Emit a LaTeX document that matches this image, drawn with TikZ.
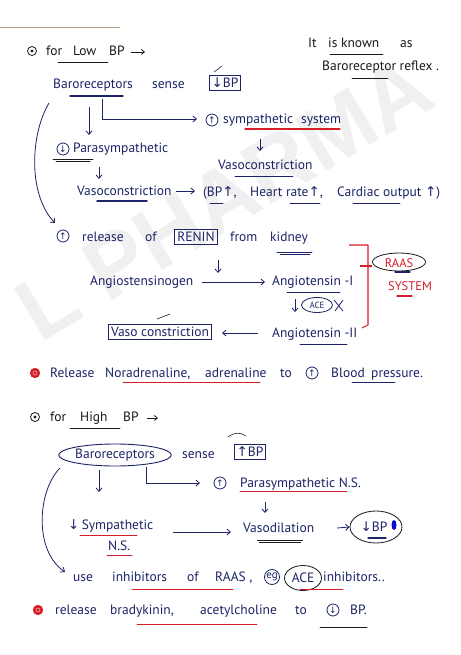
\documentclass[tikz,border=0pt]{standalone}
\usepackage{fontspec}
\setmainfont{PT Sans}
\newfontfamily\symf{DejaVu Sans}
\newfontfamily\wmfont{Liberation Sans}
\usetikzlibrary{arrows.meta,shapes.geometric}
\definecolor{ink}{RGB}{28,36,102}
\definecolor{redink}{RGB}{214,30,40}
\definecolor{pen}{RGB}{25,25,30}
\newcommand\arU{{\symf ↑}}
\newcommand\arD{{\symf ↓}}
\newcommand\hsz{\fontsize{13.5}{15}\selectfont}
\begin{document}
\begin{tikzpicture}[x=1pt,y=-1pt,
 txt/.style={inner sep=0pt, anchor=base west, text=ink, font=\hsz},
 blk/.style={txt, text=pen},
 rtxt/.style={txt, text=redink},
 ul/.style={draw=ink, line width=0.9pt, line cap=round},
 bul/.style={draw=pen, line width=0.8pt, line cap=round},
 rul/.style={draw=redink, line width=0.9pt, line cap=round},
 arr/.style={draw=ink, line width=0.8pt, -{Straight Barb[length=3.5pt,width=6pt]}},
 barr/.style={draw=pen, line width=0.8pt, -{Straight Barb[length=3pt,width=5pt]}},
 circ/.style={circle, draw=ink, line width=0.8pt, inner sep=0pt, minimum size=12pt, text=ink, font=\symf\fontsize{9}{9}\selectfont},
 boxn/.style={draw=ink, line width=0.9pt, inner sep=2.5pt, text=ink, font=\hsz},
 dotbul/.style={circle, draw=pen, line width=0.8pt, minimum size=9pt, inner sep=0pt},
 redbul/.style={circle, draw=redink, fill=redink, line width=0.7pt, minimum size=9.5pt, inner sep=0pt},
]
\useasboundingbox (0,0) rectangle (460,655);
\fill[white] (0,0) rectangle (460,655);
% watermark
\node[rotate=31, text=black!6, font=\wmfont\bfseries\fontsize{88}{88}\selectfont] (wm) at (224,198) {L PHARMA};
% top page line
\draw[draw=brown!70!black, line width=1pt, opacity=0.6] (0,28) -- (120,28);

% ---------- Section 1 : Low BP ----------
\node[dotbul] (b1) at (32,51) {};
\fill[pen] (b1.center) circle[radius=1.7];
\node[blk] (for1) at (46,56) {for};
\node[blk] (low) at (73,56) {Low};
\node[blk] (bp1) at (109,56) {BP};
\coordinate (h1a) at (131,52); \coordinate (h1b) at (145,52);
\draw[barr] (h1a) -- (h1b);
\draw[bul] (58,62) -- (108,62);

\node[blk] (itis) at (308,48) {It};
\node[blk] (known) at (328,48) {is known};
\node[blk] (as) at (400,48) {as};
\draw[bul] (330,54) -- (383,54);
\node[blk] (reflex) at (322,71) {Baroreceptor reflex .};
\draw[bul] (352,78) -- (388,78);

\node[txt] (baro1) at (53,89) {Baroreceptors};
\draw[ul, line width=1.4pt] (70,96) -- (123,96);
\node[txt] (sense1) at (152,89) {sense};
\node[boxn] (lowbp) at (225,83) {\arD BP};
\draw[ul, line width=0.6pt] (214,72) -- (222,66);

\coordinate (d1a) at (89,107); \coordinate (d1b) at (89,135);
\draw[arr] (d1a) -- (d1b);
\coordinate (l1a) at (102,99); \coordinate (l1b) at (197,119);
\draw[arr] (l1a) |- (l1b);

\node[circ] (c1) at (212,120) {↑};
\node[txt] (symp) at (223,124) {sympathetic\hspace{8pt}system};
\draw[rul, line width=1.3pt] (245,129) -- (340,129);
\coordinate (d2a) at (260,139); \coordinate (d2b) at (260,151);
\draw[arr] (d2a) -- (d2b);
\node[txt] (vaso1) at (218,170) {Vasoconstriction};
\draw[ul] (235,176) -- (293,176);

\node[circ] (c2) at (63,149) {↓};
\node[txt] (para) at (73,153) {Parasympathetic};
\draw[bul] (53,159) -- (93,159);
\draw[bul] (56,161.5) -- (90,161.5);
\coordinate (d3a) at (99,167); \coordinate (d3b) at (99,179);
\draw[arr] (d3a) -- (d3b);
\node[txt] (vaso2) at (77,195) {Vasoconstriction};
\draw[ul, line width=1.4pt] (97,201) -- (147,201);
\coordinate (a1a) at (176,191); \coordinate (a1b) at (195,191);
\draw[arr] (a1a) -- (a1b);
\node[txt] (eff1) at (203,196) {(BP\arU,};
\node[txt] (eff2) at (250,196) {Heart rate\arU,};
\node[txt] (eff3) at (337,196) {Cardiac output \arU)};
\draw[ul] (210,203) -- (223,203);
\draw[ul] (290,203) -- (320,203);
\draw[ul] (353,203) -- (400,203);

\coordinate (cv1a) at (49,103); \coordinate (cv1b) at (55,223);
\draw[arr] (cv1a) .. controls (30,135) and (28,195) .. (cv1b);

\node[circ] (c3) at (63,236) {↑};
\node[txt] (rel1) at (82,241) {release};
\node[txt] (of1) at (145,241) {of};
\node[boxn] (renin) at (196,237) {RENIN};
\node[txt] (from) at (230,241) {from};
\node[txt] (kid) at (270,241) {kidney};
\draw[ul] (277,252) -- (312,252);
\draw[ul, line width=0.5pt] (280,254) -- (310,254);
\coordinate (d4a) at (218,260); \coordinate (d4b) at (218,273);
\draw[arr] (d4a) -- (d4b);

\node[txt] (agen) at (90,285) {Angiostensinogen};
\node[txt] (ang1) at (272,285) {Angiotensin -I};
\coordinate (a2a) at (202,282); \coordinate (a2b) at (265,282);
\draw[arr] (a2a) -- (a2b);
\draw[ul, line width=0.6pt] (287,292) -- (340,292);
\coordinate (d5a) at (295,299); \coordinate (d5b) at (295,312);
\draw[arr] (d5a) -- (d5b);
\node[ellipse, draw=ink, line width=0.8pt, inner sep=0.5pt, minimum width=31pt, minimum height=15pt, text=ink, font=\fontsize{9}{9}\selectfont] (ace1) at (317,305) {ACE};
\draw[ink, line width=0.8pt] (334,300) -- (343,311) (343,300) -- (335,311);

\node[boxn] (vbox) at (160,332) {Vaso constriction};
\draw[pen, line width=0.6pt] (157,319) -- (170,314);
\node[txt] (ang2) at (272,337) {Angiotensin -II};
\coordinate (a3s) at (258,333); \coordinate (a3e) at (222,333);
\draw[arr] (a3s) -- (a3e);
\draw[ul, line width=0.6pt] (300,344) -- (347,344);

% RAAS bracket
\draw[redink, line width=1.1pt, line join=round] (349,245) -- (368,245) -- (368,325) -- (362,328);
\draw[redink, line width=1.1pt] (360,266) -- (372,266);
\node[ellipse, draw=pen, line width=0.8pt, minimum width=53pt, minimum height=18pt, inner sep=0pt] (raas) at (399,262) {};
\node[rtxt, anchor=center, font=\fontsize{12.5}{13}\selectfont] (raast) at (399,263) {RAAS};
\draw[ul, line width=1.2pt] (395,272) -- (410,272);
\node[rtxt, anchor=center, font=\fontsize{12.5}{13}\selectfont] (sys) at (410,286) {SYSTEM};
\draw[rul, line width=1.3pt] (397,296) -- (412,296);

% release line
\node[redbul] (rb1) at (35,373) {};
\draw[white!60!redink, line width=0.6pt] (rb1.center) circle[radius=2];
\node[txt] (rel2) at (50,377) {Release};
\node[txt] (nor) at (105,377) {Noradrenaline,};
\node[txt] (adr) at (205,377) {adrenaline};
\node[txt] (to1) at (280,377) {to};
\node[circ] (c4) at (312,373) {↑};
\node[txt] (blood) at (331,377) {Blood};
\node[txt] (press) at (371,377) {pressure.};
\draw[rul] (123,382) -- (260,382);
\draw[ul, line width=0.6pt] (352,382) -- (395,382);

% ---------- Section 2 : High BP ----------
\node[dotbul] (b2) at (35,417) {};
\fill[pen] (b2.center) circle[radius=1.7];
\node[blk] (for2) at (50,421) {for};
\node[blk] (high) at (80,421) {High};
\node[blk] (bp2) at (123,421) {BP};
\coordinate (h2a) at (147,418); \coordinate (h2b) at (158,418);
\draw[barr] (h2a) -- (h2b);
\draw[bul] (70,428) -- (120,428);

\node[ellipse, draw=ink, line width=0.9pt, minimum width=100pt, minimum height=22pt, inner sep=0pt, text=ink, font=\hsz] (baro2) at (115,455) {Baroreceptors};
\node[txt] (sense2) at (182,458) {sense};
\node[boxn] (highbp) at (250,452) {\arU BP};
\draw[pen, line width=0.6pt] (228,437) .. controls (235,432) and (240,432) .. (246,436);

\coordinate (d6a) at (99,470); \coordinate (d6b) at (99,492);
\draw[arr] (d6a) -- (d6b);
\coordinate (l2a) at (146,467); \coordinate (l2b) at (200,483);
\draw[arr] (l2a) |- (l2b);

\node[circ] (c5) at (220,483) {↑};
\node[txt] (para2) at (240,487) {Parasympathetic N.S.};
\draw[rul, line width=0.7pt] (240,491) -- (347,491);
\coordinate (d7a) at (265,502); \coordinate (d7b) at (265,513);
\draw[arr] (d7a) -- (d7b);

\node[txt] (sym2) at (68,529) {\arD\,Sympathetic};
\draw[rul, line width=0.7pt] (80,535) -- (137,535);
\node[txt] (ns) at (108,550) {N.S.};
\draw[rul, line width=0.7pt] (107,555) -- (132,555);
\coordinate (a4a) at (173,532); \coordinate (a4b) at (231,532);
\draw[arr] (a4a) -- (a4b);
\node[txt] (vasod) at (243,532) {Vasodilation};
\draw[pen, line width=0.6pt] (257,540) -- (303,540);
\draw[pen, line width=0.6pt] (259,542) -- (301,542);
\node[ellipse, draw=pen, line width=0.8pt, minimum width=52pt, minimum height=32pt, inner sep=0pt] (lowbp2) at (376,527) {};
\node[txt, anchor=center] (lowbp2t) at (374,527) {\arD BP};
\fill[blue!70!ink] (394,525) ellipse[x radius=2.5, y radius=5];
\draw[ul, line width=1.2pt] (368,538) -- (386,538);
\coordinate (a5a) at (337,528);
\draw[arr] (a5a) -- (lowbp2.west);

\coordinate (cv2a) at (60,468); \coordinate (cv2b) at (65,572);
\draw[arr] (cv2a) .. controls (38,490) and (33,550) .. (cv2b);

\node[txt] (use) at (73,581) {use};
\node[txt] (inh1) at (112,581) {inhibitors};
\node[txt] (of2) at (187,581) {of};
\node[txt] (raas2) at (215,581) {RAAS ,};
\node[circle, draw=ink, line width=0.8pt, inner sep=0.3pt, minimum size=15pt, text=ink, font=\fontsize{11}{11}\selectfont] (eg) at (272,577) {eg};
\node[ellipse, draw=pen, line width=0.8pt, minimum width=37pt, minimum height=25pt, inner sep=0pt, text=ink, font=\hsz] (ace2) at (303,578) {ACE};
\node[txt] (inh2) at (323,581) {inhibitors..};
\draw[rul, line width=0.7pt] (132,589) -- (233,589);
\draw[rul, line width=0.7pt] (300,589) -- (343,589);

\node[redbul] (rb2) at (38,610) {};
\draw[white!60!redink, line width=0.6pt] (rb2.center) circle[radius=2];
\node[txt] (rel3) at (55,614) {release};
\node[txt] (brad) at (110,614) {bradykinin,};
\node[txt] (acet) at (200,614) {acetylcholine};
\node[txt] (to2) at (295,614) {to};
\node[circ] (c6) at (333,610) {↓};
\node[txt] (bp3) at (350,614) {BP.};
\draw[rul, line width=0.6pt] (137,624) -- (257,624);
\draw[bul] (320,627) -- (367,627);
\end{tikzpicture}
\end{document}
